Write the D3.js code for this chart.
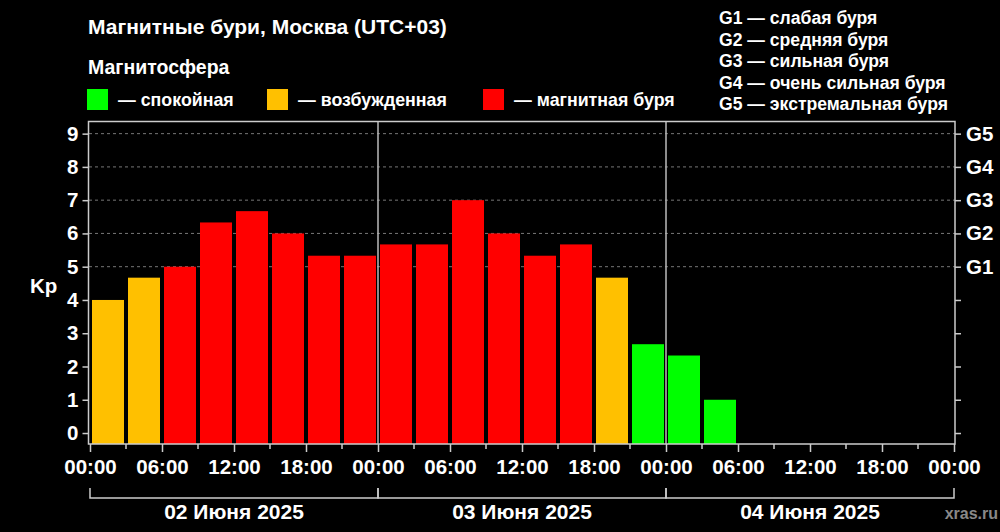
<!DOCTYPE html>
<html><head><meta charset="utf-8">
<script src="https://cdn.jsdelivr.net/npm/d3@7"></script>
<style>body{margin:0;background:#000}svg{display:block}text{font-family:"Liberation Sans",Arial,sans-serif;font-weight:bold;fill:#fff}</style>
</head><body><svg id="c" width="1000" height="532"></svg>
<script>
const startDate = "2025-06-02T00:00:00Z";
const dayLabels = ["02 Июня 2025","03 Июня 2025","04 Июня 2025"];
const kpValues = [4, 4.67, 5, 6.33, 6.67, 6, 5.33, 5.33, 5.67, 5.67, 7, 6, 5.33, 5.67, 4.67, 2.67, 2.33, 1];
const yTicks = [0,1,2,3,4,5,6,7,8,9];
const gLabels = ["G1","G2","G3","G4","G5"];
const gLevels = [5,6,7,8,9];
const gLegend = ["G1 — слабая буря","G2 — средняя буря","G3 — сильная буря","G4 — очень сильная буря","G5 — экстремальная буря"];
const legendItems = [{c:"#00ff00",t:"— спокойная"},{c:"#ffc000",t:"— возбужденная"},{c:"#ff0000",t:"— магнитная буря"}];

const svg = d3.select("#c");
const t0 = new Date(startDate);
const hour = 3600e3;
const x = d3.scaleUtc().domain([t0, new Date(+t0 + 72*hour)]).range([90, 954]);
const y = d3.scaleLinear().domain([-0.33, 9.35]).range([444, 122]);
const color = v => v < 4 ? "#00ff00" : (v < 5 ? "#ffc000" : "#ff0000");
const FONT = "Liberation Sans, Arial, sans-serif";

// title
svg.append("text").attr("x",88).attr("y",34).attr("font-size",21).text("Магнитные бури, Москва (UTC+03)");
svg.append("text").attr("x",88).attr("y",74).attr("font-size",19.5).text("Магнитосфера");
const lg = svg.append("g");
const lx = [87, 267, 483];
legendItems.forEach((d,i)=>{
  lg.append("rect").attr("x",lx[i]).attr("y",89).attr("width",21).attr("height",21).attr("fill",d.c);
  lg.append("text").attr("x",lx[i]+31).attr("y",106).attr("font-size",17.8).text(d.t);
});
gLegend.forEach((t,i)=>{
  svg.append("text").attr("x",719).attr("y",24+i*21.5).attr("font-size",17.6).text(t);
});

// grid
svg.append("g").selectAll("line").data(gLevels).join("line")
  .attr("x1",89).attr("x2",955).attr("y1",d=>y(d)).attr("y2",d=>y(d))
  .attr("stroke","#777").attr("stroke-dasharray","3,3").attr("stroke-width",1);

// bars
svg.append("g").selectAll("rect").data(kpValues).join("rect")
  .attr("x",(d,i)=>x(new Date(+t0 + i*3*hour))+2)
  .attr("width",(d,i)=>x(new Date(+t0 + (i+1)*3*hour))-x(new Date(+t0 + i*3*hour))-4)
  .attr("y",d=>y(d)).attr("height",d=>y(-0.33)-y(d))
  .attr("fill",d=>color(d));

// day separators
const days = d3.range(4).map(i=>new Date(+t0 + i*24*hour));
svg.append("g").selectAll("line").data(days.slice(1,3)).join("line")
  .attr("x1",d=>x(d)).attr("x2",d=>x(d)).attr("y1",122).attr("y2",444)
  .attr("stroke","#bbb").attr("stroke-width",1.5);

// frame
svg.append("rect").attr("x",88.5).attr("y",121.5).attr("width",866.5).attr("height",322.5)
  .attr("fill","none").attr("stroke","#ccc").attr("stroke-width",1.5);

// y axes
const yl = svg.append("g").attr("transform","translate(88.5,0)")
  .call(d3.axisLeft(y).tickValues(yTicks).tickSize(6).tickPadding(4).tickFormat(d3.format("d")));
const yr = svg.append("g").attr("transform","translate(955,0)")
  .call(d3.axisRight(y).tickValues(yTicks).tickSize(6).tickPadding(5)
    .tickFormat(d=>{const k=gLevels.indexOf(d);return k>=0?gLabels[k]:"";}));
[yl,yr].forEach(g=>{
  g.select(".domain").remove();
  g.selectAll(".tick line").attr("stroke","#ccc").attr("stroke-width",1.5);
  g.selectAll(".tick text").attr("font-size",20.5).attr("fill","#fff")
    .attr("font-family",FONT).attr("font-weight","bold");
});
svg.append("text").attr("x",30).attr("y",293).attr("font-size",20.5).text("Kp");

// x axis
const majorTicks = d3.range(13).map(i=>new Date(+t0 + i*6*hour));
const minorTicks = d3.range(12).map(i=>new Date(+t0 + (i*6+3)*hour));
const xa = svg.append("g").attr("transform","translate(0,444)")
  .call(d3.axisBottom(x).tickValues(majorTicks).tickSize(8).tickPadding(7).tickFormat(d3.utcFormat("%H:%M")));
xa.select(".domain").remove();
xa.selectAll(".tick line").attr("stroke","#ccc").attr("stroke-width",1.5);
xa.selectAll(".tick text").attr("font-size",20.5).attr("fill","#fff")
  .attr("font-family",FONT).attr("font-weight","bold");
svg.append("g").selectAll("line").data(minorTicks).join("line")
  .attr("x1",d=>x(d)).attr("x2",d=>x(d)).attr("y1",444).attr("y2",449)
  .attr("stroke","#ccc").attr("stroke-width",1.5);

// day brackets
const br = svg.append("g");
dayLabels.forEach((t,i)=>{
  const a = x(days[i]), b = x(days[i+1]);
  br.append("path").attr("d",`M${a},488V498H${b}V488`).attr("fill","none").attr("stroke","#ccc").attr("stroke-width",1.5);
  br.append("text").attr("x",(a+b)/2).attr("y",519).attr("text-anchor","middle").attr("font-size",21).text(t);
});
svg.append("text").attr("x",998).attr("y",519).attr("text-anchor","end").attr("font-size",16).style("fill","#888").text("xras.ru");
</script></body></html>
